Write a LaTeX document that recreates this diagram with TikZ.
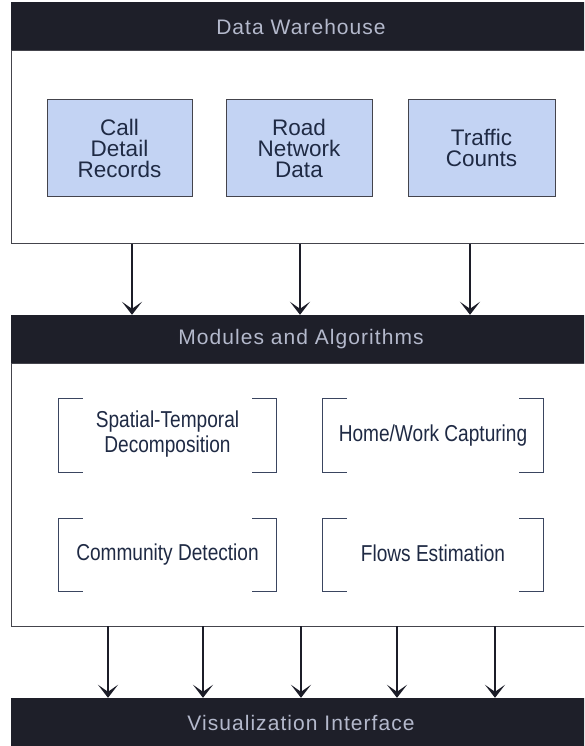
\documentclass[tikz,border=0pt]{standalone}
\usepackage{fontspec}
\setmainfont{Liberation Sans}
\newfontfamily\hdrfont[LetterSpace=5]{Liberation Sans}
\newfontfamily\narrowfont[FakeStretch=0.83]{Liberation Sans}
\usetikzlibrary{arrows.meta}
\definecolor{hdrcol}{HTML}{1E1F29}
\definecolor{hdrtext}{HTML}{B4B9CC}
\definecolor{bluefill}{HTML}{C3D3F3}
\definecolor{navy}{HTML}{1F2A44}
\definecolor{brkcol}{HTML}{3A4560}
\definecolor{panelline}{HTML}{44444C}
\definecolor{arrcol}{HTML}{1C1D28}
\tikzset{
  hdr/.style={fill=hdrcol, draw=none, minimum width=580pt, minimum height=48pt, inner sep=0pt,
    text=hdrtext, font=\hdrfont\fontsize{21}{24}\selectfont},
  panel/.style={draw=panelline, line width=0.9pt, fill=white, minimum width=580pt, inner sep=0pt},
  srcbox/.style={draw=panelline, line width=0.9pt, fill=bluefill, minimum height=97pt, inner sep=0pt,
    text=navy, align=center, font=\fontsize{22.5}{21}\selectfont},
  modbox/.style={minimum height=73pt, inner sep=0pt, text=navy, align=center,
    font=\narrowfont\fontsize{23}{24}\selectfont},
  brk/.style={draw=brkcol, line width=0.9pt},
  arr/.style={draw=arrcol, line width=1.7pt, -{Stealth[length=13pt,width=20pt,inset=7pt]}}
}
\newcommand\drawbrackets[1]{%
  \draw[brk] ([xshift=24pt]#1.north west) -- (#1.north west) -- (#1.south west) -- ([xshift=24pt]#1.south west);
  \draw[brk] ([xshift=-24pt]#1.north east) -- (#1.north east) -- (#1.south east) -- ([xshift=-24pt]#1.south east);
}
\begin{document}
\begin{tikzpicture}[x=1pt,y=-1pt]
\useasboundingbox (0,0) rectangle (584,746);
\clip (0,0) rectangle (584,746);
% ---- Data Warehouse
\node[hdr, minimum height=49pt] (h1) at (301,27) {Data Warehouse};
\node[panel, minimum height=193pt] (p1) at (301,147) {};
\node[srcbox, minimum width=145pt] (b1) at (119.5,148) {Call\\Detail\\Records};
\node[srcbox, minimum width=146pt] (b2) at (299,148) {Road\\Network\\Data};
\node[srcbox, minimum width=147pt] (b3) at (481.5,147.5) {Traffic\\Counts};
% ---- Modules and Algorithms
\node[hdr] (h2) at (301,339) {Modules and Algorithms};
\node[panel, minimum height=263pt] (p2) at (301,494.5) {};
\node[modbox, minimum width=217pt] (m1) at (167.5,435.5) {\raisebox{2pt}{\begin{tabular}{@{}c@{}}Spatial-Temporal\\[1pt]Decomposition\end{tabular}}};
\node[modbox, minimum width=220pt] (m2) at (433,435.5) {\raisebox{3pt}{Home/Work Capturing}};
\node[modbox, minimum width=217pt] (m3) at (167.5,555) {\raisebox{3pt}{Community Detection}};
\node[modbox, minimum width=220pt] (m4) at (433,555) {\raisebox{3pt}{Flows Estimation}};
\drawbrackets{m1}
\drawbrackets{m2}
\drawbrackets{m3}
\drawbrackets{m4}
% ---- Visualization Interface
\node[hdr, minimum height=50pt] (h3) at (301,723) {Visualization Interface};
% ---- arrows top
\coordinate (a1) at (132,243.5);
\coordinate (a2) at (300,243.5);
\coordinate (a3) at (470,243.5);
\foreach \c in {a1,a2,a3} \draw[arr] (\c) -- (\c |- h2.north);
% ---- arrows bottom
\coordinate (c1) at (108,626);
\coordinate (c2) at (203,626);
\coordinate (c3) at (301,626);
\coordinate (c4) at (397,626);
\coordinate (c5) at (495,626);
\foreach \c in {c1,c2,c3,c4,c5} \draw[arr] (\c) -- (\c |- h3.north);
\end{tikzpicture}
\end{document}
